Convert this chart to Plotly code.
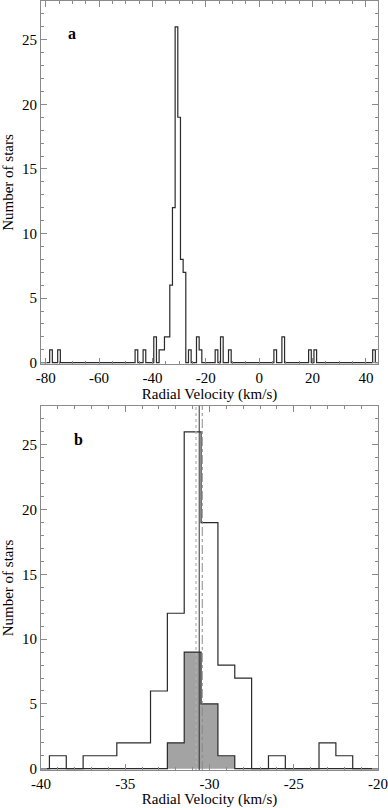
import numpy as np
import plotly.graph_objects as go

# panel a: full sample, 1 km/s bins (bin centres -> counts, empty bins omitted)
all_rv = [-78, -75, -46, -43, -39, -37, -36, -35, -34, -33, -32, -31, -30,
          -29, -28, -26, -23, -22, -16, -14, -11, 6, 9, 19, 21, 43]
all_n = [1, 1, 1, 1, 2, 1, 1, 2, 2, 6, 12, 26, 19,
         8, 7, 1, 2, 1, 1, 2, 1, 1, 2, 1, 1, 1]

# panel b: zoom on the cluster
zoom_rv = [-39, -37, -36, -35, -34, -33, -32, -31, -30, -29, -28, -26, -23, -22]
zoom_n = [1, 1, 1, 2, 2, 6, 12, 26, 19, 8, 7, 1, 2, 1]

# shaded sub-sample
sub_rv = [-32, -31, -30, -29]
sub_n = [2, 9, 5, 1]

# vertical markers (km/s)
v_dotted = -30.80
v_solid = -30.61
v_dashdot = -30.43

# tick labels (plain hyphen like the original)
xticks_a = [-80, -60, -40, -20, 0, 20, 40]
xticks_b = [-40, -35, -30, -25, -20]
yticks = [0, 5, 10, 15, 20, 25]

FONT = 'Liberation Serif'
AX = '#8a8a8a'
LN = '#2a2a2a'


def steps(centres, counts, lo, hi):
    """dense 1 km/s histogram drawn as a step outline"""
    c = np.arange(lo, hi + 1)
    n = np.zeros(len(c))
    for x, k in zip(centres, counts):
        n[c == x] = k
    xs = list(c - 0.5) + [hi + 0.5]
    ys = list(n) + [n[-1]]
    return xs, ys


fig = go.Figure()

xa, ya = steps(all_rv, all_n, -83, 46)
fig.add_trace(go.Scatter(x=xa, y=ya, mode='lines', line=dict(color=LN, width=1.2, shape='hv'),
                         xaxis='x', yaxis='y', hoverinfo='skip'))

xs, ys = steps(sub_rv, sub_n, -41, -19)
fig.add_trace(go.Scatter(x=xs, y=ys, mode='lines', fill='tozeroy', fillcolor='#a3a3a3',
                         line=dict(color=LN, width=1.2, shape='hv'),
                         xaxis='x2', yaxis='y2', hoverinfo='skip'))

xb, yb = steps(zoom_rv, zoom_n, -41, -19)
fig.add_trace(go.Scatter(x=xb, y=yb, mode='lines', line=dict(color=LN, width=1.2, shape='hv'),
                         xaxis='x2', yaxis='y2', hoverinfo='skip'))

for v, col, w, dash in [(v_dotted, '#b0b0b0', 1.2, 'dot'),
                        (v_solid, '#333333', 1, 'solid'),
                        (v_dashdot, '#8a8a8a', 1, 'dashdot')]:
    fig.add_shape(type='line', x0=v, x1=v, y0=0, y1=1, xref='x2', yref='y2 domain',
                  line=dict(color=col, width=w, dash=dash))


def xaxis(rng, ticks, minor, anchor):
    return dict(range=rng, tickvals=ticks, ticktext=[str(t) for t in ticks],
                ticks='inside', ticklen=6, tickcolor=AX,
                minor=dict(ticks='inside', ticklen=3, dtick=minor, tick0=0, tickcolor=AX),
                showline=True, linecolor=AX, linewidth=1, mirror='ticks', showgrid=False,
                zeroline=False, anchor=anchor, automargin=False,
                title=dict(text='Radial Velocity (km/s)', font=dict(family=FONT, size=15),
                           standoff=2),
                tickfont=dict(family=FONT, size=15))


def yaxis(dom, anchor):
    return dict(range=[-0.1, 28], domain=dom, tickvals=yticks,
                ticktext=[str(t) for t in yticks],
                ticks='inside', ticklen=6, tickcolor=AX,
                minor=dict(ticks='inside', ticklen=3, dtick=1, tick0=0, tickcolor=AX),
                showline=True, linecolor=AX, linewidth=1, mirror='ticks', showgrid=False,
                zeroline=False, anchor=anchor, automargin=False,
                title=dict(text='Number of stars', font=dict(family=FONT, size=15), standoff=8),
                tickfont=dict(family=FONT, size=15))


H = 808
top, bot = 1, 38
ph = H - top - bot


def dom(y0, y1):
    # pixel rows (from top) -> paper fractions
    return [(H - bot - y1) / ph, (H - bot - y0) / ph]


fig.update_layout(
    width=388, height=H,
    margin=dict(l=41, r=10, t=top, b=bot),
    paper_bgcolor='white', plot_bgcolor='white',
    font=dict(family=FONT, color='black'),
    showlegend=False,
    xaxis=xaxis([-81.75, 44.5], xticks_a, 5, 'y'),
    yaxis=yaxis(dom(1, 364), 'x'),
    xaxis2=xaxis([-40, -20], xticks_b, 1, 'y2'),
    yaxis2=yaxis(dom(406, 770), 'x2'),
    annotations=[
        dict(text='<b>a</b>', x=-70, y=25.5, xref='x', yref='y', showarrow=False,
             font=dict(family=FONT, size=16)),
        dict(text='<b>b</b>', x=-37.8, y=25.4, xref='x2', yref='y2', showarrow=False,
             font=dict(family=FONT, size=16)),
    ],
)

# drop the browser's default 8px body margin so the figure sits at the page corner
fig.write_html('out.html', config={'displayModeBar': False},
               post_script="document.body.style.margin='0';")
